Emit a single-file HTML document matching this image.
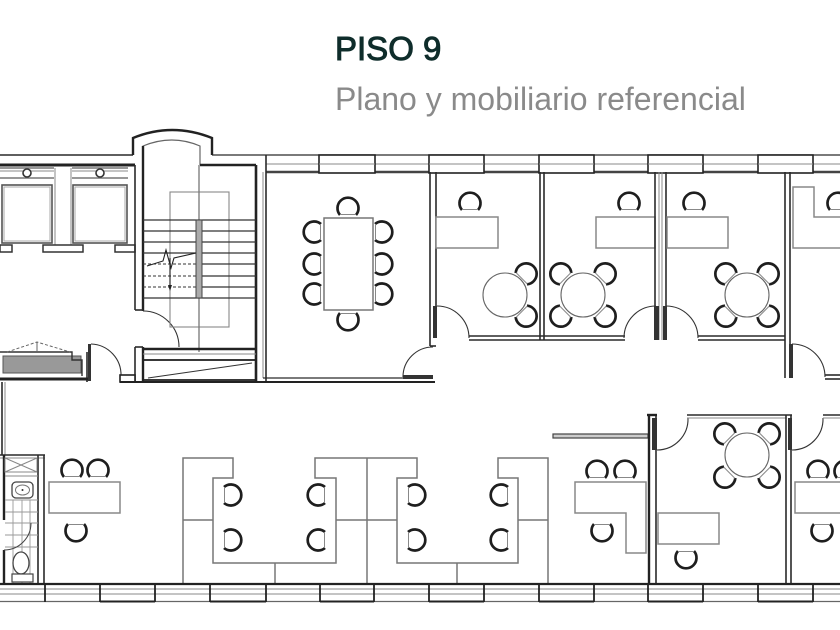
<!DOCTYPE html>
<html><head><meta charset="utf-8">
<style>
html,body{margin:0;padding:0;background:#fff;}
body{width:840px;height:630px;overflow:hidden;}
svg{display:block;}
.d{stroke:#2a2a2a;stroke-width:1.6;fill:none;}
.dk{stroke:#222;stroke-width:2.4;fill:none;}
.t{stroke:#888;stroke-width:1;fill:none;}
.g{stroke:#777;stroke-width:1.4;fill:none;}
.w{fill:#fff;}
</style></head>
<body>
<svg width="840" height="630" viewBox="0 0 840 630" xmlns="http://www.w3.org/2000/svg">
<defs>
  <g id="ch">
    <path d="M-8,8 A10.5,10.5 0 1 1 8,8" stroke="#1e1e1e" stroke-width="2.7" fill="none"/>
    <path d="M-8,7.5 L8,7.5" stroke="#888" stroke-width="1" fill="none"/>
  </g>
</defs>

<!-- Header -->
<text x="335" y="60" font-family="Liberation Sans, sans-serif" font-size="33" fill="#0f2d2b" stroke="#0f2d2b" stroke-width="1">PISO 9</text>
<text x="335" y="110" font-family="Liberation Sans, sans-serif" font-size="32" fill="#8a8a8a">Plano y mobiliario referencial</text>

<!-- ============ TOP EXTERIOR WALL ============ -->
<line x1="0" y1="155" x2="133" y2="155" class="d"/>
<line x1="0" y1="165" x2="135" y2="165" class="dk" style="stroke-width:3"/>
<line x1="212" y1="155" x2="840" y2="155" class="d" style="stroke-width:1.3"/>
<line x1="266" y1="164" x2="840" y2="164" class="t"/>
<line x1="266" y1="172" x2="840" y2="172" stroke="#444" stroke-width="2.6"/>
<!-- windows top -->
<g fill="#fff" stroke="#222" stroke-width="1.6">
  <rect x="319" y="155" width="56" height="18"/>
  <rect x="429" y="155" width="55" height="18"/>
  <rect x="539" y="155" width="55" height="18"/>
  <rect x="648" y="155" width="55" height="18"/>
  <rect x="758" y="155" width="55" height="18"/>
</g>
<g class="t">
  <line x1="319" y1="164" x2="375" y2="164"/>
  <line x1="429" y1="164" x2="484" y2="164"/>
  <line x1="539" y1="164" x2="594" y2="164"/>
  <line x1="648" y1="164" x2="703" y2="164"/>
  <line x1="758" y1="164" x2="813" y2="164"/>
</g>

<!-- ============ ELEVATORS ============ -->
<g>
  <line x1="0" y1="168" x2="54" y2="168" class="g"/>
  <line x1="0" y1="171" x2="54" y2="171" class="t"/>
  <line x1="0" y1="178" x2="54" y2="178" class="g"/>
  <line x1="72" y1="168" x2="128" y2="168" class="g"/>
  <line x1="72" y1="171" x2="128" y2="171" class="t"/>
  <line x1="72" y1="178" x2="128" y2="178" class="g"/>
  <circle cx="27" cy="173" r="4" fill="#fff" stroke="#333" stroke-width="1.6"/>
  <circle cx="100" cy="173" r="4" fill="#fff" stroke="#333" stroke-width="1.6"/>
  <rect x="2" y="185" width="50" height="58" fill="none" stroke="#555" stroke-width="1.6"/>
  <rect x="4" y="187" width="46" height="54" fill="none" stroke="#aaa" stroke-width="1"/>
  <rect x="73" y="185" width="54" height="58" fill="none" stroke="#555" stroke-width="1.6"/>
  <rect x="75" y="187" width="50" height="54" fill="none" stroke="#aaa" stroke-width="1"/>
  <line x1="55" y1="168" x2="55" y2="245" class="t"/>
  <line x1="71" y1="168" x2="71" y2="245" class="t"/>
  <rect x="0" y="245" width="12" height="7" fill="#fff" stroke="#333" stroke-width="1.5"/>
  <rect x="43" y="245" width="40" height="7" fill="#fff" stroke="#333" stroke-width="1.5"/>
  <rect x="115" y="245" width="20" height="7" fill="#fff" stroke="#333" stroke-width="1.5"/>
</g>

<!-- ============ STAIR CORE ============ -->
<path d="M133,155 L133,138 Q172,122 212,138 L212,155" class="dk"/>
<path d="M143,165 L143,146 Q172,134 200,146 L200,165" stroke="#666" stroke-width="1.2" fill="none"/>
<line x1="200" y1="165" x2="256" y2="165" class="dk" style="stroke-width:2.6"/>
<line x1="135" y1="165" x2="135" y2="310" class="d"/>
<line x1="143" y1="146" x2="143" y2="311" class="dk"/>
<line x1="135" y1="310" x2="143" y2="310" class="d"/>
<line x1="135" y1="347" x2="135" y2="382" class="d"/>
<line x1="143" y1="347" x2="143" y2="382" class="dk"/>
<line x1="135" y1="347" x2="143" y2="347" class="d"/>
<path d="M143,311 A36,36 0 0 1 179,347" stroke="#333" stroke-width="1.1" fill="none"/>
<line x1="256" y1="165" x2="256" y2="382" class="dk" style="stroke-width:2.6"/>
<line x1="263" y1="172" x2="263" y2="378" class="t"/>
<line x1="266" y1="155" x2="266" y2="382" class="d"/>
<rect x="170" y="192" width="59" height="135" fill="none" stroke="#888" stroke-width="1.1"/>
<line x1="199" y1="165" x2="199" y2="352" stroke="#777" stroke-width="1.3"/>
<g stroke="#333" stroke-width="1.2">
  <line x1="143" y1="220" x2="256" y2="220"/>
  <line x1="143" y1="231" x2="256" y2="231"/>
  <line x1="143" y1="242" x2="256" y2="242"/>
  <line x1="143" y1="253" x2="256" y2="253"/>
  <line x1="199" y1="264" x2="256" y2="264"/>
  <line x1="199" y1="276" x2="256" y2="276"/>
  <line x1="199" y1="287" x2="256" y2="287"/>
  <line x1="143" y1="298" x2="256" y2="298"/>
</g>
<g stroke="#333" stroke-width="1.1" stroke-dasharray="3,2">
  <line x1="143" y1="264" x2="199" y2="264"/>
  <line x1="143" y1="276" x2="199" y2="276"/>
  <line x1="143" y1="287" x2="199" y2="287"/>
</g>
<rect x="196" y="220" width="6" height="78" fill="#aaa" stroke="#444" stroke-width="1"/>
<polyline points="147,266 163,261 166,250 171,268 174,258 196,253" fill="none" stroke="#222" stroke-width="1.1"/>
<line x1="170" y1="258" x2="170" y2="289" stroke="#222" stroke-width="1.1"/>
<path d="M168,285 L170,291 L172,285 Z" fill="#222"/>
<line x1="143" y1="349" x2="256" y2="349" class="dk"/>
<line x1="143" y1="354" x2="256" y2="354" class="t"/>
<rect x="143" y="360" width="113" height="20" fill="none" stroke="#222" stroke-width="1.8"/>
<line x1="148" y1="378" x2="252" y2="363" stroke="#333" stroke-width="1.1"/>

<!-- ============ LOBBY LEFT ============ -->
<rect x="3" y="356" width="78" height="17" fill="#999" stroke="#555" stroke-width="1"/>
<path d="M0,352 L72,352 L72,360 L82,360 L82,376" fill="none" stroke="#333" stroke-width="1.4"/>
<line x1="87" y1="352" x2="87" y2="382" class="d"/>
<polyline points="7,352 37,342 70,352" fill="none" stroke="#666" stroke-width="1" stroke-dasharray="3,2"/>
<line x1="37" y1="342" x2="37" y2="351" stroke="#666" stroke-width="1"/>
<line x1="0" y1="379" x2="88" y2="379" stroke="#222" stroke-width="3"/>
<rect x="88" y="344" width="3" height="37" fill="#333"/>
<path d="M91,344 A31,31 0 0 1 121,376" stroke="#333" stroke-width="1.1" fill="none"/>
<rect x="120" y="375" width="15" height="7" fill="#fff" stroke="#222" stroke-width="1.6"/>
<line x1="120" y1="382" x2="435" y2="382" stroke="#222" stroke-width="2"/>
<line x1="263" y1="378" x2="403" y2="378" class="d" style="stroke-width:1.3"/>

<line x1="2" y1="382" x2="2" y2="455" class="d"/>
<line x1="5" y1="382" x2="5" y2="455" class="t"/>

<!-- ============ MEETING ROOM ============ -->
<line x1="430" y1="172" x2="430" y2="346" class="d"/>
<line x1="436" y1="172" x2="436" y2="306" class="d"/>
<line x1="430" y1="346" x2="436" y2="346" class="d"/>
<rect x="403" y="375" width="30" height="4" fill="#333"/>
<path d="M403,377 A30,30 0 0 1 433,347" stroke="#333" stroke-width="1.1" fill="none"/>
<rect x="324" y="218" width="49" height="92" fill="#fff" stroke="#777" stroke-width="1.5"/>
<use href="#ch" transform="translate(348,207)"/>
<use href="#ch" transform="translate(348,321) rotate(180)"/>
<use href="#ch" transform="translate(313,232) rotate(-90)"/>
<use href="#ch" transform="translate(313,264) rotate(-90)"/>
<use href="#ch" transform="translate(313,294) rotate(-90)"/>
<use href="#ch" transform="translate(383,232) rotate(90)"/>
<use href="#ch" transform="translate(383,264) rotate(90)"/>
<use href="#ch" transform="translate(383,294) rotate(90)"/>

<!-- ============ OFFICE 2 ============ -->
<rect x="433" y="306" width="4" height="32" fill="#333"/>
<path d="M437,306 A32,32 0 0 1 469,338" stroke="#333" stroke-width="1.1" fill="none"/>
<line x1="469" y1="336" x2="625" y2="336" class="d"/>
<line x1="469" y1="340" x2="625" y2="340" class="d"/>
<rect x="436" y="217" width="62" height="31" fill="#fff" stroke="#888" stroke-width="1.5"/>
<use href="#ch" transform="translate(470,202)"/>
<circle cx="505" cy="295" r="22" fill="#fff" stroke="#666" stroke-width="1.1"/>
<use href="#ch" transform="translate(527,273) rotate(45)"/>
<use href="#ch" transform="translate(527,317) rotate(135)"/>

<line x1="540" y1="172" x2="540" y2="340" class="d"/>
<line x1="544" y1="172" x2="544" y2="340" class="d"/>

<!-- ============ OFFICE 3 ============ -->
<rect x="596" y="217" width="59" height="31" fill="#fff" stroke="#888" stroke-width="1.5"/>
<use href="#ch" transform="translate(629,202)"/>
<circle cx="583" cy="295" r="22" fill="#fff" stroke="#666" stroke-width="1.1"/>
<use href="#ch" transform="translate(560,273) rotate(-45)"/>
<use href="#ch" transform="translate(606,273) rotate(45)"/>
<use href="#ch" transform="translate(560,317) rotate(-135)"/>
<use href="#ch" transform="translate(606,317) rotate(135)"/>
<line x1="655" y1="172" x2="655" y2="340" class="d"/>
<line x1="659" y1="172" x2="659" y2="340" class="t"/>
<line x1="662" y1="172" x2="662" y2="340" class="t"/>
<line x1="666" y1="172" x2="666" y2="306" class="d"/>
<rect x="654" y="306" width="5" height="34" fill="#333"/>
<path d="M656,306 A32,32 0 0 0 624,338" stroke="#333" stroke-width="1.1" fill="none"/>

<!-- ============ OFFICE 4 ============ -->
<rect x="663" y="306" width="4" height="34" fill="#333"/>
<path d="M666,306 A32,32 0 0 1 698,338" stroke="#333" stroke-width="1.1" fill="none"/>
<line x1="698" y1="336" x2="785" y2="336" class="d"/>
<line x1="698" y1="340" x2="785" y2="340" class="d"/>
<rect x="667" y="217" width="61" height="31" fill="#fff" stroke="#888" stroke-width="1.5"/>
<use href="#ch" transform="translate(694,202)"/>
<circle cx="747" cy="295" r="22" fill="#fff" stroke="#666" stroke-width="1.1"/>
<use href="#ch" transform="translate(725,273) rotate(-45)"/>
<use href="#ch" transform="translate(769,273) rotate(45)"/>
<use href="#ch" transform="translate(725,317) rotate(-135)"/>
<use href="#ch" transform="translate(769,317) rotate(135)"/>
<line x1="785" y1="172" x2="785" y2="378" class="d"/>
<line x1="790" y1="172" x2="790" y2="344" class="d"/>

<!-- ============ OFFICE 5 (partial) ============ -->
<rect x="789" y="344" width="4" height="34" fill="#333"/>
<path d="M792,344 A33,33 0 0 1 825,377" stroke="#333" stroke-width="1.1" fill="none"/>
<line x1="825" y1="375" x2="840" y2="375" class="d"/>
<line x1="825" y1="379" x2="840" y2="379" class="d"/>
<polyline points="840,217 814,217 814,187 793,187 793,248 840,248" fill="#fff" stroke="#888" stroke-width="1.5"/>
<use href="#ch" transform="translate(838,202)"/>

<!-- ============ BATHROOM ============ -->
<line x1="0" y1="455" x2="45" y2="455" class="d"/>
<line x1="0" y1="458" x2="45" y2="458" class="t"/>
<line x1="38" y1="455" x2="38" y2="584" class="d"/>
<line x1="44" y1="455" x2="44" y2="584" class="d"/>
<line x1="4" y1="455" x2="4" y2="520" class="dk"/>
<line x1="4" y1="550" x2="4" y2="584" class="dk"/>
<rect x="5" y="458" width="32" height="14" fill="none" stroke="#888" stroke-width="1"/>
<line x1="5" y1="458" x2="37" y2="472" class="t"/>
<line x1="37" y1="458" x2="5" y2="472" class="t"/>
<line x1="5" y1="476" x2="38" y2="476" class="t"/>
<g stroke="#999" stroke-width="0.9">
  <line x1="13" y1="500" x2="13" y2="584"/>
  <line x1="22" y1="500" x2="22" y2="584"/>
  <line x1="30" y1="500" x2="30" y2="584"/>
  <line x1="5" y1="500" x2="38" y2="500"/>
  <line x1="5" y1="512" x2="38" y2="512"/>
  <line x1="5" y1="523" x2="38" y2="523"/>
  <line x1="5" y1="535" x2="38" y2="535"/>
  <line x1="5" y1="547" x2="38" y2="547"/>
</g>
<rect x="12" y="482" width="21" height="16" rx="4" fill="#fff" stroke="#444" stroke-width="1.3"/>
<ellipse cx="22.5" cy="490" rx="7" ry="5" fill="none" stroke="#777" stroke-width="1"/>
<circle cx="22.5" cy="490" r="1" fill="#333"/>
<path d="M31,523 A27,27 0 0 1 4,550" stroke="#444" stroke-width="1" fill="none"/>
<ellipse cx="21" cy="563" rx="8" ry="11" fill="#fff" stroke="#444" stroke-width="1.3"/>
<rect x="12" y="574" width="21" height="8" fill="#fff" stroke="#444" stroke-width="1.2"/>

<!-- ============ LEFT WORKSTATION ============ -->
<rect x="49" y="482" width="71" height="31" fill="#fff" stroke="#888" stroke-width="1.5"/>
<use href="#ch" transform="translate(72,469)"/>
<use href="#ch" transform="translate(98,469)"/>
<use href="#ch" transform="translate(76,532) rotate(180)"/>

<!-- ============ CUBICLE CLUSTERS ============ -->
<g stroke="#777" stroke-width="1.5" fill="none">
  <polyline points="183,583 183,458 233,458 233,478 213,478 213,563 336,563 336,478 315,478 315,458 417,458 417,478 397,478 397,563 518,563 518,478 498,478 498,458 548,458 548,583"/>
  <line x1="367" y1="458" x2="367" y2="583"/>
  <line x1="183" y1="520" x2="213" y2="520"/>
  <line x1="336" y1="520" x2="397" y2="520"/>
  <line x1="518" y1="520" x2="548" y2="520"/>
  <line x1="275" y1="563" x2="275" y2="583"/>
  <line x1="457" y1="563" x2="457" y2="583"/>
</g>
<use href="#ch" transform="translate(232,495) rotate(90)"/>
<use href="#ch" transform="translate(232,540) rotate(90)"/>
<use href="#ch" transform="translate(317,495) rotate(-90)"/>
<use href="#ch" transform="translate(317,540) rotate(-90)"/>
<use href="#ch" transform="translate(416,495) rotate(90)"/>
<use href="#ch" transform="translate(416,540) rotate(90)"/>
<use href="#ch" transform="translate(500,495) rotate(-90)"/>
<use href="#ch" transform="translate(500,540) rotate(-90)"/>

<!-- ============ LOWER RIGHT ============ -->
<rect x="553" y="434" width="95" height="4" fill="#ccc" stroke="#444" stroke-width="1.2"/>
<line x1="649" y1="415" x2="649" y2="584" class="dk"/>
<line x1="656" y1="415" x2="656" y2="584" class="d"/>
<line x1="647" y1="415" x2="657" y2="415" class="dk"/>
<rect x="652" y="418" width="5" height="32" fill="#333"/>
<path d="M657,450 A31,31 0 0 0 688,418" stroke="#333" stroke-width="1.1" fill="none"/>
<line x1="687" y1="415" x2="792" y2="415" class="d"/>
<line x1="687" y1="418" x2="786" y2="418" class="t"/>
<line x1="786" y1="415" x2="786" y2="584" class="d"/>
<line x1="791" y1="415" x2="791" y2="584" class="d"/>
<rect x="788" y="418" width="4" height="32" fill="#333"/>
<path d="M792,450 A31,31 0 0 0 823,418" stroke="#333" stroke-width="1.1" fill="none"/>
<line x1="823" y1="415" x2="840" y2="415" class="d"/>
<line x1="823" y1="418" x2="840" y2="418" class="t"/>

<polygon points="575,482 646,482 646,553 626,553 626,513 575,513" fill="#fff" stroke="#888" stroke-width="1.5"/>
<use href="#ch" transform="translate(597,470)"/>
<use href="#ch" transform="translate(625,470)"/>
<use href="#ch" transform="translate(602,532) rotate(180)"/>

<circle cx="747" cy="455" r="22" fill="#fff" stroke="#666" stroke-width="1.1"/>
<use href="#ch" transform="translate(724,433) rotate(-45)"/>
<use href="#ch" transform="translate(770,433) rotate(45)"/>
<use href="#ch" transform="translate(724,478) rotate(-135)"/>
<use href="#ch" transform="translate(770,478) rotate(135)"/>
<rect x="658" y="513" width="61" height="31" fill="#fff" stroke="#888" stroke-width="1.5"/>
<use href="#ch" transform="translate(686,559) rotate(180)"/>

<rect x="795" y="482" width="50" height="31" fill="#fff" stroke="#888" stroke-width="1.5"/>
<use href="#ch" transform="translate(818,470)"/>
<use href="#ch" transform="translate(845,470)"/>
<use href="#ch" transform="translate(822,532) rotate(180)"/>

<!-- ============ BOTTOM EXTERIOR WALL ============ -->
<line x1="0" y1="584" x2="840" y2="584" stroke="#222" stroke-width="2.2"/>
<line x1="0" y1="589" x2="840" y2="589" class="t"/>
<line x1="0" y1="594" x2="840" y2="594" class="t"/>
<line x1="0" y1="601.5" x2="840" y2="601.5" stroke="#666" stroke-width="1.2"/>
<g stroke="#222" stroke-width="2">
  <line x1="100" y1="601.5" x2="155" y2="601.5"/>
  <line x1="210" y1="601.5" x2="266" y2="601.5"/>
  <line x1="320" y1="601.5" x2="374" y2="601.5"/>
  <line x1="429" y1="601.5" x2="484" y2="601.5"/>
  <line x1="539" y1="601.5" x2="594" y2="601.5"/>
  <line x1="648" y1="601.5" x2="703" y2="601.5"/>
  <line x1="758" y1="601.5" x2="813" y2="601.5"/>
</g>
<g stroke="#222" stroke-width="1.8">
  <line x1="45" y1="584" x2="45" y2="602"/>
  <line x1="100" y1="584" x2="100" y2="602"/>
  <line x1="155" y1="584" x2="155" y2="602"/>
  <line x1="210" y1="584" x2="210" y2="602"/>
  <line x1="266" y1="584" x2="266" y2="602"/>
  <line x1="320" y1="584" x2="320" y2="602"/>
  <line x1="374" y1="584" x2="374" y2="602"/>
  <line x1="429" y1="584" x2="429" y2="602"/>
  <line x1="484" y1="584" x2="484" y2="602"/>
  <line x1="539" y1="584" x2="539" y2="602"/>
  <line x1="594" y1="584" x2="594" y2="602"/>
  <line x1="648" y1="584" x2="648" y2="602"/>
  <line x1="703" y1="584" x2="703" y2="602"/>
  <line x1="758" y1="584" x2="758" y2="602"/>
  <line x1="813" y1="584" x2="813" y2="602"/>
</g>
</svg>
</body></html>
